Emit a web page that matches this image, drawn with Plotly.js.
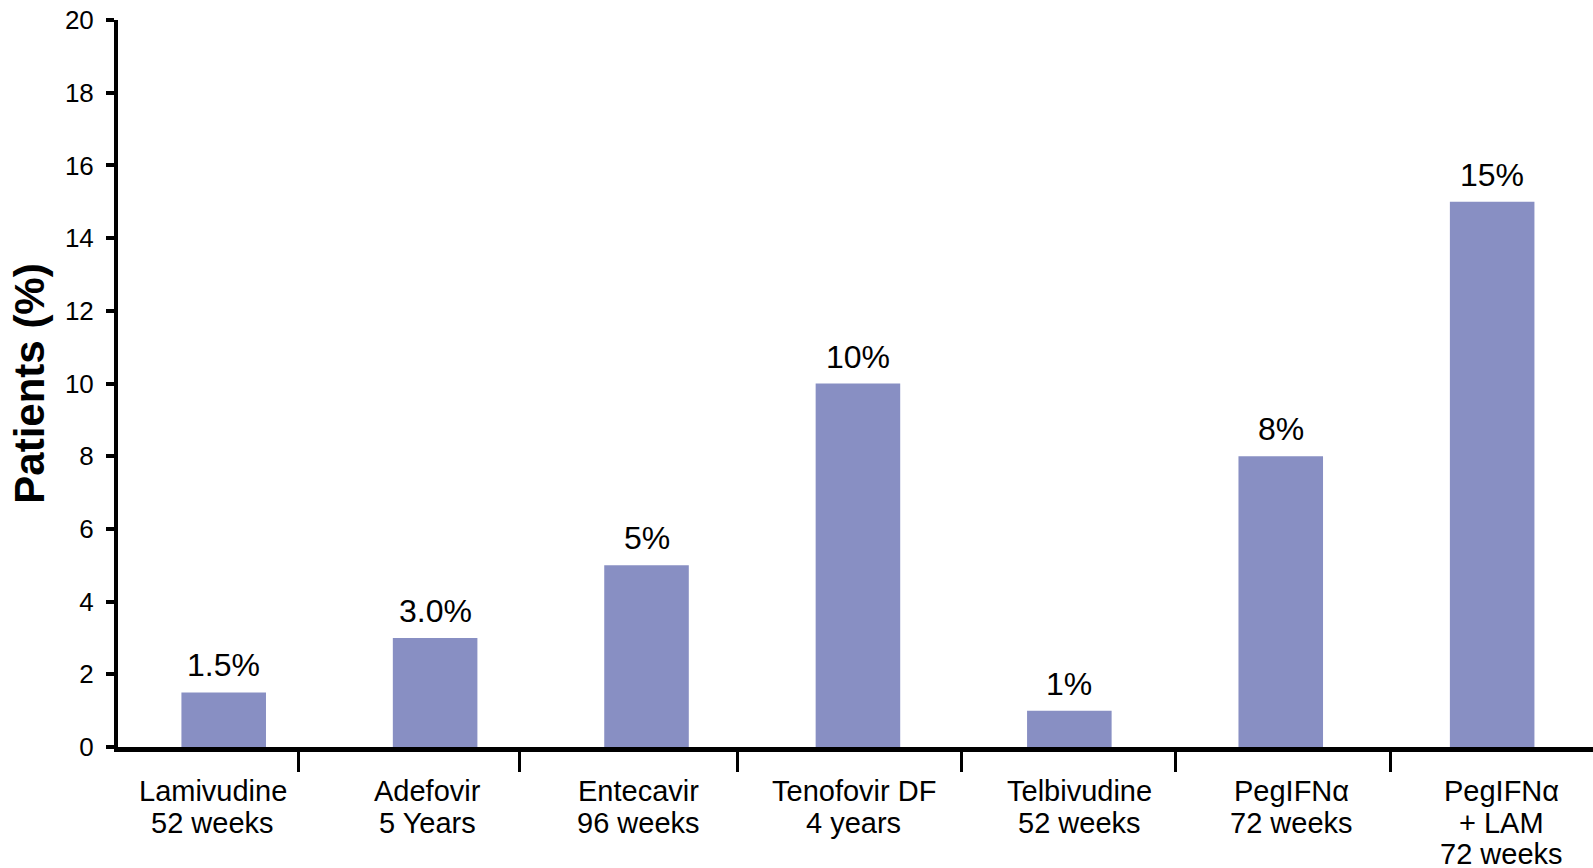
<!DOCTYPE html>
<html>
<head>
<meta charset="utf-8">
<script src="https://cdn.plot.ly/plotly-3.0.1.min.js"></script>
<style>
  html, body { margin: 0; padding: 0; background: #ffffff; }
  #chart { width: 1593px; height: 868px; }
</style>
</head>
<body>
<div id="chart"></div>
<script>
// Treatment regimens (category labels, one entry per line break)
const regimens = [
  'Lamivudine<br>52 weeks',
  'Adefovir<br>5 Years',
  'Entecavir<br>96 weeks',
  'Tenofovir DF<br>4 years',
  'Telbivudine<br>52 weeks',
  'PegIFN\u03b1<br>72 weeks',
  'PegIFN\u03b1<br>+ LAM<br>72 weeks'
];

// Share of patients per regimen (%)
const patientPct = [1.5, 3.0, 5, 10, 1, 8, 15];

// Value labels shown above each bar
const pctLabels = ['1.5%', '3.0%', '5%', '10%', '1%', '8%', '15%'];

// Y-axis ticks
const yTicks = [0, 2, 4, 6, 8, 10, 12, 14, 16, 18, 20];

// Separator tick marks under the category axis (in category units)
const separatorPos = [0.352, 1.401, 2.432, 3.49, 4.501, 5.517];

// Small horizontal nudges (px) of the category text blocks
const labelNudge = [-11, -8, -8, -4, 10, 11, 9];

const FONT = '"Liberation Sans", Arial, Helvetica, sans-serif';
const BAR_COLOR = '#888FC3';
const xRange = [-0.5, 6.477];

const idx = regimens.map((_, i) => i);

const trace = {
  type: 'bar',
  x: idx,
  y: patientPct,
  marker: { color: BAR_COLOR, line: { width: 0 } },
  hoverinfo: 'skip',
  showlegend: false
};

// Value labels above the bars
const valueAnnotations = idx.map(i => ({
  x: i,
  y: patientPct[i],
  xref: 'x',
  yref: 'y',
  text: pctLabels[i],
  showarrow: false,
  xanchor: 'center',
  yanchor: 'bottom',
  yshift: 7,
  font: { family: FONT, size: 32, color: '#000000' }
}));

// Category text under the axis, one annotation per line for a tight line pitch
const FIRST_LINE = 44;
const LINE_STEP = 31.5;
const categoryAnnotations = [];
idx.forEach(i => {
  regimens[i].split('<br>').forEach((line, k) => {
    categoryAnnotations.push({
      x: i,
      y: 0,
      xref: 'x',
      yref: 'paper',
      text: line,
      showarrow: false,
      xanchor: 'center',
      yanchor: 'middle',
      xshift: labelNudge[i],
      yshift: -(FIRST_LINE + k * LINE_STEP),
      font: { family: FONT, size: 29, color: '#000000' }
    });
  });
});

const layout = {
  width: 1593,
  height: 868,
  margin: { l: 118, r: 0, t: 20, b: 121, pad: 0 },
  paper_bgcolor: '#ffffff',
  plot_bgcolor: '#ffffff',
  bargap: 0.6,
  font: { family: FONT, color: '#000000' },
  xaxis: {
    type: 'linear',
    range: xRange,
    tickmode: 'array',
    tickvals: idx,
    ticks: '',
    showticklabels: false,
    showgrid: false,
    zeroline: false,
    showline: true,
    linecolor: '#000000',
    linewidth: 5,
    fixedrange: true
  },
  xaxis2: {
    type: 'linear',
    overlaying: 'x',
    anchor: 'y',
    side: 'bottom',
    range: xRange,
    tickmode: 'array',
    tickvals: separatorPos,
    ticks: 'outside',
    ticklen: 24,
    tickwidth: 3,
    tickcolor: '#000000',
    showticklabels: false,
    showgrid: false,
    zeroline: false,
    showline: false,
    fixedrange: true
  },
  yaxis: {
    range: [0, 20],
    tickmode: 'array',
    tickvals: yTicks,
    ticks: 'outside',
    ticklen: 8,
    tickwidth: 4,
    tickcolor: '#000000',
    showgrid: false,
    zeroline: false,
    showline: true,
    linecolor: '#000000',
    linewidth: 4,
    tickfont: { family: FONT, size: 26, color: '#000000' },
    ticklabelstandoff: 7,
    title: {
      text: '<b>Patients (%)</b>',
      font: { family: FONT, size: 42, color: '#000000' },
      standoff: 8
    },
    fixedrange: true
  },
  annotations: valueAnnotations.concat(categoryAnnotations)
};

Plotly.newPlot('chart', [trace, { type: 'bar', x: [], y: [], xaxis: 'x2', yaxis: 'y', showlegend: false, hoverinfo: 'skip' }], layout, { displayModeBar: false, staticPlot: true });
</script>
</body>
</html>
